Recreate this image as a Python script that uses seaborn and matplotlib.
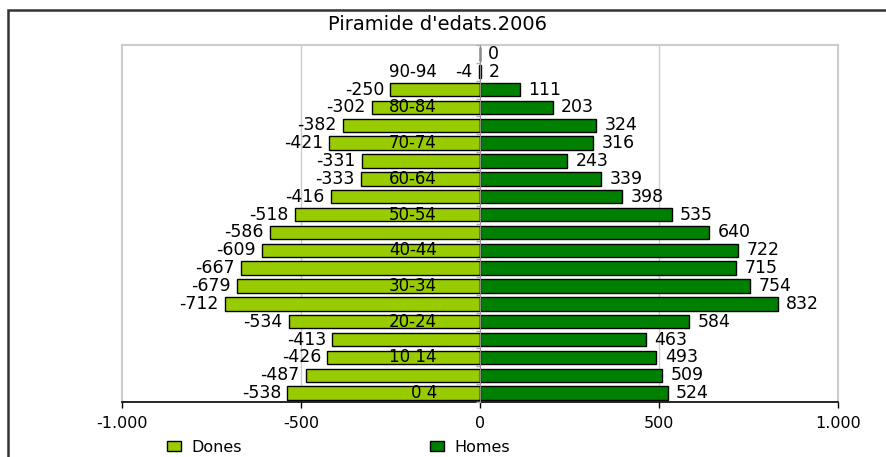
import numpy as np
import pandas as pd
import matplotlib
matplotlib.use('Agg')
import matplotlib.pyplot as plt
from matplotlib.patches import Rectangle
import seaborn as sns

# Data, bottom row first (youngest group)
age_groups = ['0 4', '5-9', '10 14', '15-19', '20-24', '25-29', '30-34', '35-39',
              '40-44', '45-49', '50-54', '55-59', '60-64', '65-69', '70-74',
              '75-79', '80-84', '85-89', '90-94', '95+']
dones = [-538, -487, -426, -413, -534, -712, -679, -667, -609, -586,
         -518, -416, -333, -331, -421, -382, -302, -250, -4, 0]
homes = [524, 509, 493, 463, 584, 832, 754, 715, 722, 640,
         535, 398, 339, 243, 316, 324, 203, 111, 2, 0]
x_ticks = [-1000, -500, 0, 500, 1000]
x_tick_labels = ['-1.000', '-500', '0', '500', '1.000']

df = pd.DataFrame({
    'edat': age_groups * 2,
    'valor': dones + homes,
    'sexe': ['Dones'] * len(dones) + ['Homes'] * len(homes),
})

sns.set_style('white')
plt.rcParams['font.family'] = ['DejaVu Sans']
plt.rcParams['text.color'] = 'black'
plt.rcParams['xtick.color'] = 'black'
plt.rcParams['ytick.color'] = 'black'

fig = plt.figure(figsize=(8.86, 4.57), dpi=100)
ax = fig.add_axes([122 / 886, 1 - 402 / 457, 716 / 886, 357 / 457])

order = age_groups[::-1]  # top row first
sns.barplot(data=df, x='valor', y='edat', hue='sexe', order=order, orient='h',
            dodge=False, width=0.75, saturation=1, errorbar=None,
            palette={'Dones': '#99cc00', 'Homes': '#008000'},
            edgecolor='black', linewidth=1.0, ax=ax, zorder=3)

ax.set_xlim(-1000, 1000)
ax.set_ylim(len(order) - 0.5, -0.5)
ax.set_xlabel('')
ax.set_ylabel('')

# value labels
for k, age in enumerate(order):
    i = age_groups.index(age)
    if dones[i] != 0:
        ax.annotate(str(dones[i]), (dones[i], k), xytext=(-4.5, 0),
                    textcoords='offset points', ha='right', va='center', fontsize=12.5)
    ax.annotate(str(homes[i]), (homes[i], k), xytext=(6, 0),
                textcoords='offset points', ha='left', va='center', fontsize=12.5)

# y axis sitting on zero, every other age group labelled on top of the bars
ax.spines['left'].set_position(('data', 0))
ax.spines['left'].set_color('#8c8c8c')
ax.spines['left'].set_zorder(4)
ax.yaxis.set_zorder(5)
ax.set_yticks(range(len(order)))
ax.set_yticklabels([a if age_groups.index(a) % 2 == 0 else '' for a in order])
for lbl in ax.get_yticklabels():
    lbl.set_va('center')
ax.set_yticks(np.arange(-0.5, len(order), 1), minor=True)
ax.tick_params(axis='y', which='major', length=0, pad=31, labelsize=12)
ax.tick_params(axis='y', which='minor', length=3, width=1, color='#b0b0b0', left=True)

ax.set_xticks(x_ticks)
ax.set_xticklabels(x_tick_labels)
ax.tick_params(axis='x', length=4, width=1, color='black', bottom=True,
               direction='out', pad=6, labelsize=11.5)
ax.spines['bottom'].set_color('black')
ax.spines['bottom'].set_linewidth(1.2)
for s in ['top', 'right']:
    ax.spines[s].set_color('#cccccc')
    ax.spines[s].set_linewidth(1.5)
ax.axvline(-1000, color='#cccccc', lw=1.5, zorder=1, clip_on=False)
for g in [-500, 500]:
    ax.axvline(g, color='#cccccc', lw=1, zorder=1)

fig.text(437 / 886, 1 - 25 / 457, "Piramide d'edats.2006", ha='center', va='center',
         fontsize=14)

handles, labels = ax.get_legend_handles_labels()
ax.get_legend().remove()
fig.legend(handles, labels, loc='center left', bbox_to_anchor=(167 / 886, 1 - 447 / 457),
           ncol=2, frameon=False, fontsize=11.5, handlelength=0.9, handleheight=0.55,
           handletextpad=0.6, columnspacing=11.8, borderpad=0, borderaxespad=0)

# outer frame (left and top edges visible)
fig.patches.append(Rectangle((8 / 886, -0.2), 1.2, 1 - 10 / 457 + 0.2,
                             transform=fig.transFigure, fill=False,
                             edgecolor='#333333', lw=1.8))

fig.savefig('out.png', dpi=100)
